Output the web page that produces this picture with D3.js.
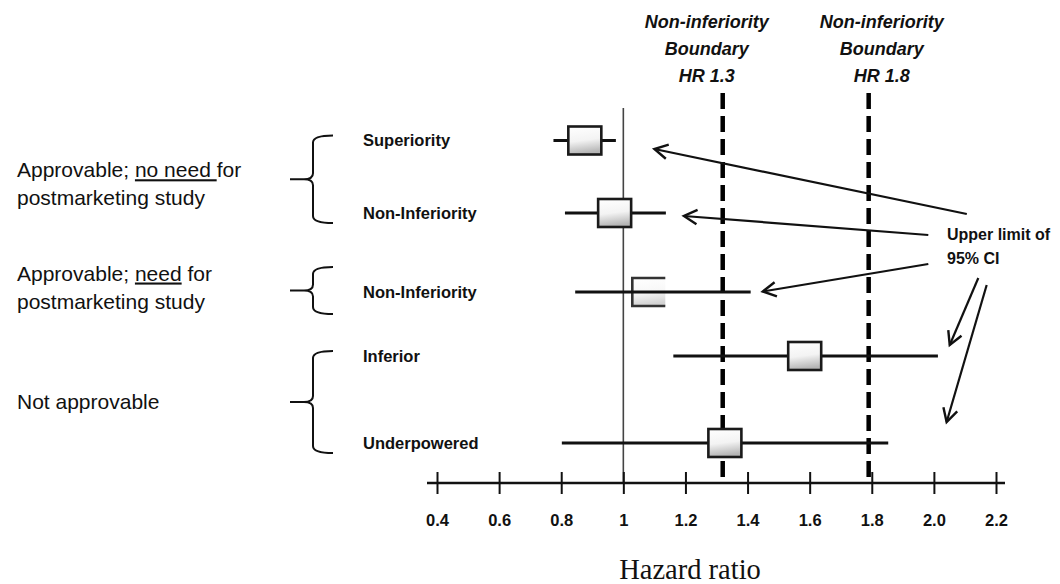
<!DOCTYPE html>
<html>
<head>
<meta charset="utf-8">
<script src="https://cdnjs.cloudflare.com/ajax/libs/d3/7.9.0/d3.min.js"></script>
<style>
  body { margin: 0; background: #fff; }
  svg { display: block; font-family: "Liberation Sans", Arial, sans-serif; fill: #111; }
</style>
</head>
<body>
<div id="chart"></div>
<script>
// --- dados ---
const rowLabels = ["Superiority", "Non-Inferiority", "Non-Inferiority", "Inferior", "Underpowered"];
const pointEst  = [0.876, 0.972, 1.082, 1.584, 1.327];
const ciLower   = [0.775, 0.812, 0.845, 1.161, 0.802];
const ciUpper   = [0.976, 1.137, 1.410, 2.013, 1.853];

const tickValues = [0.4, 0.6, 0.8, 1.0, 1.2, 1.4, 1.6, 1.8, 2.0, 2.2];
const tickLabels = ["0.4", "0.6", "0.8", "1", "1.2", "1.4", "1.6", "1.8", "2.0", "2.2"];

const boundaryHR     = [1.32, 1.79];
const boundaryLabels = ["HR 1.3", "HR 1.8"];

const groupLine1     = ["Approvable; no need for", "Approvable; need for", "Not approvable"];
const groupLine2     = ["postmarketing study", "postmarketing study", ""];
const groupUnderline = ["no need ", "need", null];
const groupRows      = [[0, 1], [2, 2], [3, 4]];

const noteLines = ["Upper limit of", "95% CI"];
const axisTitle = "Hazard ratio";

// --- layout ---
const W = 1060, H = 584;
const AXIS_Y = 483;

const svg = d3.select("#chart").append("svg")
  .attr("width", W).attr("height", H);

const defs = svg.append("defs");
const grad = defs.append("linearGradient").attr("id", "boxGrad")
  .attr("x1", 0).attr("y1", 0).attr("x2", 0.15).attr("y2", 1);
grad.append("stop").attr("offset", "0").attr("stop-color", "#ffffff");
grad.append("stop").attr("offset", "0.55").attr("stop-color", "#f3f3f3");
grad.append("stop").attr("offset", "1").attr("stop-color", "#b5b5b5");

const x = d3.scaleLinear().domain([0.4, 2.2]).range([437, 996]);
const y = d3.scaleOrdinal().domain(d3.range(rowLabels.length))
  .range([140.5, 213, 292, 356, 443]);

// linha vertical em HR = 1
svg.append("line")
  .attr("x1", x(1)).attr("x2", x(1))
  .attr("y1", 108).attr("y2", AXIS_Y)
  .attr("stroke", "#444").attr("stroke-width", 1.6);

// limites de não-inferioridade (tracejado)
svg.selectAll("line.boundary").data(boundaryHR).join("line")
  .attr("class", "boundary")
  .attr("x1", d => x(d)).attr("x2", d => x(d))
  .attr("y1", 93).attr("y2", AXIS_Y)
  .attr("stroke", "#000").attr("stroke-width", 4.5)
  .attr("stroke-dasharray", "16,7");

// cabeçalhos
const headerDx = [-16, 13];
boundaryHR.forEach((b, i) => {
  const t = svg.append("text")
    .attr("text-anchor", "middle")
    .attr("font-size", 18).attr("font-weight", "bold").attr("font-style", "italic");
  ["Non-inferiority", "Boundary", boundaryLabels[i]].forEach((s, k) => {
    t.append("tspan").attr("x", x(b) + headerDx[i]).attr("y", 28 + k * 27).text(s);
  });
});

// eixo
const gAxis = svg.append("g").attr("transform", `translate(0,${AXIS_Y})`);
gAxis.call(d3.axisBottom(x)
  .tickValues(tickValues)
  .tickFormat((d, i) => tickLabels[i])
  .tickSizeInner(11).tickSizeOuter(0));
gAxis.select(".domain").remove();
gAxis.selectAll(".tick line")
  .attr("y1", -11).attr("y2", 11)
  .attr("stroke", "#111").attr("stroke-width", 2);
gAxis.selectAll(".tick text")
  .attr("y", 43).attr("dy", null)
  .attr("font-family", '"Liberation Sans", Arial, sans-serif')
  .attr("font-size", 16.5).attr("font-weight", "bold").attr("fill", "#111");
gAxis.append("line")
  .attr("x1", x(0.4) - 10).attr("x2", x(2.2) + 9)
  .attr("stroke", "#111").attr("stroke-width", 2.5);

svg.append("text")
  .attr("x", 690).attr("y", 579)
  .attr("text-anchor", "middle")
  .attr("font-family", '"Liberation Serif", "Times New Roman", serif')
  .attr("font-size", 28.5)
  .text(axisTitle);

// intervalos de confiança e caixas
const rows = d3.range(rowLabels.length);
const BOX_W = 33, BOX_H = 28;

rows.forEach(i => {
  const open = i === 2;  // caixa da 3a linha aparece sem a borda direita
  const whisker = () => svg.append("line")
    .attr("x1", x(ciLower[i])).attr("x2", x(ciUpper[i]))
    .attr("y1", y(i)).attr("y2", y(i))
    .attr("stroke", "#111").attr("stroke-width", 3);

  if (!open) whisker();

  const bx = x(pointEst[i]) - BOX_W / 2, by = y(i) - BOX_H / 2;
  svg.append("rect")
    .attr("x", bx).attr("y", by).attr("width", BOX_W).attr("height", BOX_H)
    .attr("fill", "url(#boxGrad)")
    .attr("fill-opacity", open ? 0.6 : 1)
    .attr("stroke", open ? "none" : "#1a1a1a").attr("stroke-width", 2.6);

  if (open) {
    svg.append("path")
      .attr("d", `M${bx + BOX_W},${by} H${bx} V${by + BOX_H} H${bx + BOX_W}`)
      .attr("fill", "none").attr("stroke", "#333").attr("stroke-width", 2.6);
    whisker();
  }
});

// rótulos das linhas
svg.selectAll("text.row").data(rows).join("text")
  .attr("class", "row")
  .attr("x", 363).attr("y", d => y(d))
  .attr("dy", "0.35em")
  .attr("font-size", 16.5).attr("font-weight", "bold")
  .text(d => rowLabels[d]);

// chaves e rótulos de grupo
const groupDy = [-2, -10, 7];
groupRows.forEach((g, i) => {
  const single = g[0] === g[1];
  const top = single ? y(g[0]) - 25 : y(g[0]) - 5;
  const bot = single ? y(g[1]) + 22 : y(g[1]) + 10;
  const mid = (top + bot) / 2;
  const xr = 333, xv = 313, xp = 290;
  svg.append("path")
    .attr("d", `M${xr},${top} Q${xv},${top} ${xv},${top + 7} L${xv},${mid - 6}` +
               ` Q${xv},${mid} ${xv - 9},${mid} L${xp},${mid}` +
               ` M${xv - 9},${mid} Q${xv},${mid} ${xv},${mid + 6}` +
               ` L${xv},${bot - 7} Q${xv},${bot} ${xr},${bot}`)
    .attr("fill", "none").attr("stroke", "#111").attr("stroke-width", 2);

  const t = svg.append("text").attr("font-size", 21);
  const line1 = groupLine1[i];
  const u = groupUnderline[i];
  if (groupLine2[i]) {
    const l1 = t.append("tspan").attr("x", 17).attr("y", mid + groupDy[i]);
    if (u) {
      const k = line1.indexOf(u);
      l1.append("tspan").text(line1.slice(0, k));
      l1.append("tspan").attr("text-decoration", "underline").text(u);
      l1.append("tspan").text(line1.slice(k + u.length));
    } else {
      l1.text(line1);
    }
    t.append("tspan").attr("x", 17).attr("y", mid + groupDy[i] + 28).text(groupLine2[i]);
  } else {
    t.attr("x", 17).attr("y", mid + groupDy[i]).text(line1);
  }
});

// anotação "Upper limit of 95% CI"
const note = svg.append("text").attr("font-size", 16).attr("font-weight", "bold");
noteLines.forEach((s, k) => note.append("tspan").attr("x", 947).attr("y", 240 + k * 23.5).text(s));

const arrows = [
  { from: [2.106, 214], to: [1.100, 149] },
  { from: [1.982, 235], to: [1.195, 216] },
  { from: [1.982, 264], to: [1.449, 291.5] },
  { from: [2.143, 278], to: [2.051, 345] },
  { from: [2.170, 285], to: [2.041, 422] }
];
arrows.forEach(a => {
  const x1 = x(a.from[0]), y1 = a.from[1];
  const x2 = x(a.to[0]),   y2 = a.to[1];
  svg.append("line")
    .attr("x1", x1).attr("y1", y1).attr("x2", x2).attr("y2", y2)
    .attr("stroke", "#111").attr("stroke-width", 2.2);
  const ang = Math.atan2(y1 - y2, x1 - x2);
  const L = 15, spread = 0.5;
  svg.append("path")
    .attr("d", `M${x2 + L * Math.cos(ang + spread)},${y2 + L * Math.sin(ang + spread)}` +
               ` L${x2},${y2} L${x2 + L * Math.cos(ang - spread)},${y2 + L * Math.sin(ang - spread)}`)
    .attr("fill", "none").attr("stroke", "#111").attr("stroke-width", 2.4);
});
</script>
</body>
</html>
